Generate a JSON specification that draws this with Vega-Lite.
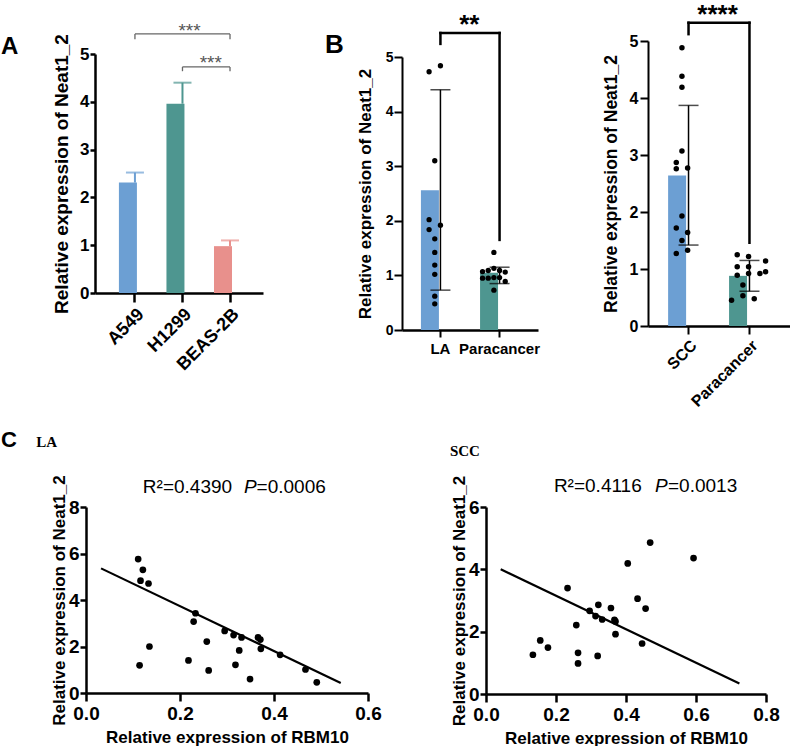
{
  "$schema": "https://vega.github.io/schema/vega-lite/v6.json",
  "background": "white",
  "padding": {"left": 0, "top": 1, "right": 0, "bottom": 0},
  "spacing": 18,
  "resolve": {"scale": {"color": "independent"}},
  "config": {
    "view": {"stroke": null},
    "font": "Liberation Sans",
    "axis": {"grid": false, "domainColor": "#000000", "tickColor": "#000000", "labelColor": "#000000", "titleColor": "#000000", "labelFont": "Liberation Sans", "titleFont": "Liberation Sans", "labelFontWeight": "bold", "titleFontWeight": "bold", "labelFlush": false, "labelOverlap": false}
  },
  "vconcat": [
    {
      "spacing": 0,
      "bounds": "flush",
      "resolve": {"scale": {"color": "independent"}},
      "hconcat": [
        {"width": 9, "height": 10, "data": {"values": []}, "mark": {"type": "point", "opacity": 0}},
        {
          "width": 168, "height": 252,
          "data": {"values": [
            {"group": "A549", "mean": 2.31, "upper": 2.52},
            {"group": "H1299", "mean": 3.96, "upper": 4.40},
            {"group": "BEAS-2B", "mean": 0.98, "upper": 1.10}
          ]},
          "layer": [
            {
              "mark": {"type": "bar"},
              "encoding": {
                "x": {"field": "group", "type": "nominal", "sort": null,
                  "scale": {"domain": ["A549", "H1299", "BEAS-2B"], "paddingInner": 0.326, "paddingOuter": 0.43, "align": 0.585},
                  "axis": {"title": null, "labelAngle": -45, "labelFontSize": 18, "tickSize": 9, "tickWidth": 2.5, "domainWidth": 2.5, "labelPadding": 3}},
                "y": {"field": "mean", "type": "quantitative",
                  "scale": {"domain": [0, 5], "nice": false, "range": [252, 13]},
                  "axis": {"title": "Relative expression of Neat1_2", "values": [0, 1, 2, 3, 4, 5], "format": "d", "titleFontSize": 19, "labelFontSize": 17, "tickSize": 5, "tickWidth": 2.5, "domainWidth": 2.5, "labelPadding": 1, "titlePadding": 8}},
                "color": {"field": "group", "type": "nominal", "legend": null,
                  "scale": {"domain": ["A549", "H1299", "BEAS-2B"], "range": ["#6c9fd3", "#4e9690", "#e8908c"]}}
              }
            },
            {
              "mark": {"type": "rule", "strokeWidth": 2},
              "encoding": {
                "x": {"field": "group", "type": "nominal"},
                "y": {"field": "mean", "type": "quantitative"},
                "y2": {"field": "upper"},
                "color": {"field": "group", "type": "nominal", "legend": null}
              }
            },
            {
              "mark": {"type": "tick", "thickness": 2, "size": 18},
              "encoding": {
                "x": {"field": "group", "type": "nominal"},
                "y": {"field": "upper", "type": "quantitative"},
                "color": {"field": "group", "type": "nominal", "legend": null}
              }
            },
            {
              "data": {"values": [
                {"from": "A549", "to": "BEAS-2B", "y": 5.42},
                {"from": "H1299", "to": "BEAS-2B", "y": 4.73}
              ]},
              "mark": {"type": "rule", "strokeWidth": 1.3, "color": "#666666"},
              "encoding": {
                "x": {"field": "from", "type": "nominal"},
                "x2": {"field": "to"},
                "y": {"field": "y", "type": "quantitative"}
              }
            },
            {
              "data": {"values": [
                {"group": "A549", "y": 5.42, "y2": 5.31},
                {"group": "BEAS-2B", "y": 5.42, "y2": 5.31},
                {"group": "H1299", "y": 4.73, "y2": 4.64},
                {"group": "BEAS-2B", "y": 4.73, "y2": 4.64}
              ]},
              "mark": {"type": "rule", "strokeWidth": 1.3, "color": "#666666"},
              "encoding": {
                "x": {"field": "group", "type": "nominal"},
                "y": {"field": "y", "type": "quantitative"},
                "y2": {"field": "y2"}
              }
            },
            {
              "data": {"values": [{"group": "H1299", "y": 5.36, "t": "***"}]},
              "mark": {"type": "text", "fontSize": 19, "color": "#555555", "baseline": "alphabetic", "align": "center"},
              "encoding": {
                "x": {"field": "group", "type": "nominal", "bandPosition": 0.72},
                "y": {"field": "y", "type": "quantitative"},
                "text": {"field": "t"}
              }
            },
            {
              "data": {"values": [{"group": "BEAS-2B", "y": 4.69, "t": "***"}]},
              "mark": {"type": "text", "fontSize": 19, "color": "#555555", "baseline": "alphabetic", "align": "center"},
              "encoding": {
                "x": {"field": "group", "type": "nominal", "bandPosition": -0.1},
                "y": {"field": "y", "type": "quantitative"},
                "text": {"field": "t"}
              }
            },
            {
              "data": {"values": [{"group": "A549", "y": 5.0, "t": "A"}]},
              "mark": {"type": "text", "fontSize": 24, "fontWeight": "bold", "color": "#000000", "baseline": "alphabetic", "align": "left", "dx": -134},
              "encoding": {
                "x": {"field": "group", "type": "nominal"},
                "y": {"field": "y", "type": "quantitative"},
                "text": {"field": "t"}
              }
            }
          ]
        },
        {"width": 139, "height": 10, "data": {"values": []}, "mark": {"type": "point", "opacity": 0}},
        {
          "width": 136, "height": 289,
          "data": {"values": [
            {"group": "LA", "mean": 2.56, "lo": 0.73, "hi": 4.40},
            {"group": "Paracancer", "mean": 1.05, "lo": 0.85, "hi": 1.15}
          ]},
          "layer": [
            {
              "mark": {"type": "bar"},
              "encoding": {
                "x": {"field": "group", "type": "nominal", "sort": null,
                  "scale": {"domain": ["LA", "Paracancer"], "paddingInner": 0.34, "paddingOuter": 0.32},
                  "axis": {"title": null, "labelAngle": 0, "labelFontSize": 15, "tickSize": 7, "tickWidth": 2, "domainWidth": 2.5, "labelPadding": 4}},
                "y": {"field": "mean", "type": "quantitative",
                  "scale": {"domain": [0, 5], "nice": false, "range": [289, 16]},
                  "axis": {"title": "Relative expression of Neat1_2", "values": [0, 1, 2, 3, 4, 5], "format": "d", "titleFontSize": 17, "labelFontSize": 14, "tickSize": 8, "tickWidth": 2, "domainWidth": 2, "labelPadding": 1, "titlePadding": 11}},
                "color": {"field": "group", "type": "nominal", "legend": null,
                  "scale": {"domain": ["LA", "Paracancer"], "range": ["#6c9fd3", "#4e9690"]}}
              }
            },
            {
              "data": {"values": [
                {"group": "LA", "value": 4.73, "slot": -1},
                {"group": "LA", "value": 4.84, "slot": 1},
                {"group": "LA", "value": 3.10, "slot": 0},
                {"group": "LA", "value": 2.02, "slot": -1},
                {"group": "LA", "value": 1.84, "slot": -1},
                {"group": "LA", "value": 1.92, "slot": 1},
                {"group": "LA", "value": 1.67, "slot": 0},
                {"group": "LA", "value": 1.42, "slot": 0},
                {"group": "LA", "value": 1.19, "slot": 0},
                {"group": "LA", "value": 1.02, "slot": 0},
                {"group": "LA", "value": 0.62, "slot": 0},
                {"group": "LA", "value": 0.48, "slot": 0},
                {"group": "Paracancer", "value": 1.42, "slot": 0},
                {"group": "Paracancer", "value": 1.13, "slot": 0},
                {"group": "Paracancer", "value": 1.07, "slot": -2},
                {"group": "Paracancer", "value": 1.09, "slot": -1},
                {"group": "Paracancer", "value": 1.09, "slot": 1},
                {"group": "Paracancer", "value": 1.06, "slot": 2},
                {"group": "Paracancer", "value": 0.95, "slot": -2},
                {"group": "Paracancer", "value": 0.95, "slot": -1},
                {"group": "Paracancer", "value": 0.96, "slot": 1},
                {"group": "Paracancer", "value": 0.89, "slot": 2},
                {"group": "Paracancer", "value": 0.96, "slot": 0},
                {"group": "Paracancer", "value": 0.73, "slot": 0}
              ]},
              "mark": {"type": "circle", "size": 28, "color": "#000000", "opacity": 1},
              "encoding": {
                "x": {"field": "group", "type": "nominal"},
                "xOffset": {"field": "slot", "type": "ordinal", "scale": {"type": "point", "domain": [-2, -1, 0, 1, 2], "padding": 0.44}},
                "y": {"field": "value", "type": "quantitative"}
              }
            },
            {
              "mark": {"type": "rule", "strokeWidth": 1.5, "color": "#000000"},
              "encoding": {
                "x": {"field": "group", "type": "nominal"},
                "y": {"field": "lo", "type": "quantitative"},
                "y2": {"field": "hi"}
              }
            },
            {
              "transform": [{"fold": ["lo", "hi"], "as": ["end", "val"]}],
              "mark": {"type": "tick", "thickness": 1.5, "size": 20, "color": "#000000"},
              "encoding": {
                "x": {"field": "group", "type": "nominal"},
                "y": {"field": "val", "type": "quantitative"}
              }
            },
            {
              "data": {"values": [{"from": "LA", "to": "Paracancer", "y": 5.44}]},
              "mark": {"type": "rule", "strokeWidth": 2.5, "color": "#000000", "strokeCap": "square"},
              "encoding": {
                "x": {"field": "from", "type": "nominal"},
                "x2": {"field": "to"},
                "y": {"field": "y", "type": "quantitative"}
              }
            },
            {
              "data": {"values": [
                {"group": "LA", "y": 5.44, "y2": 5.24},
                {"group": "Paracancer", "y": 5.44, "y2": 1.65}
              ]},
              "mark": {"type": "rule", "strokeWidth": 2.5, "color": "#000000", "strokeCap": "square"},
              "encoding": {
                "x": {"field": "group", "type": "nominal"},
                "y": {"field": "y", "type": "quantitative"},
                "y2": {"field": "y2"}
              }
            },
            {
              "data": {"values": [{"group": "LA", "y": 5.44, "t": "**"}]},
              "mark": {"type": "text", "fontSize": 26, "fontWeight": "bold", "color": "#000000", "baseline": "alphabetic", "align": "center"},
              "encoding": {
                "x": {"field": "group", "type": "nominal", "bandPosition": 1.24},
                "y": {"field": "y", "type": "quantitative"},
                "text": {"field": "t"}
              }
            },
            {
              "data": {"values": [{"group": "LA", "y": 5.07, "t": "B"}]},
              "mark": {"type": "text", "fontSize": 26, "fontWeight": "bold", "color": "#000000", "baseline": "alphabetic", "align": "left", "dx": -115.5},
              "encoding": {
                "x": {"field": "group", "type": "nominal"},
                "y": {"field": "y", "type": "quantitative"},
                "text": {"field": "t"}
              }
            }
          ]
        },
        {"width": 110, "height": 10, "data": {"values": []}, "mark": {"type": "point", "opacity": 0}},
        {
          "width": 142, "height": 285,
          "data": {"values": [
            {"group": "SCC", "mean": 2.64, "lo": 1.42, "hi": 3.87},
            {"group": "Paracancer", "mean": 0.88, "lo": 0.61, "hi": 1.15}
          ]},
          "layer": [
            {
              "mark": {"type": "bar"},
              "encoding": {
                "x": {"field": "group", "type": "nominal", "sort": null,
                  "scale": {"domain": ["SCC", "Paracancer"], "paddingInner": 0.33, "paddingOuter": 0.33},
                  "axis": {"title": null, "labelAngle": -45, "labelFontSize": 16, "tickSize": 8, "tickWidth": 2, "domainWidth": 2.5, "labelPadding": 3}},
                "y": {"field": "mean", "type": "quantitative",
                  "scale": {"domain": [0, 5], "nice": false},
                  "axis": {"title": "Relative expression of Neat1_2", "values": [0, 1, 2, 3, 4, 5], "format": "d", "titleFontSize": 17.5, "labelFontSize": 16, "tickSize": 8, "tickWidth": 2, "domainWidth": 2, "labelPadding": 2, "titlePadding": 9}},
                "color": {"field": "group", "type": "nominal", "legend": null,
                  "scale": {"domain": ["SCC", "Paracancer"], "range": ["#6c9fd3", "#4e9690"]}}
              }
            },
            {
              "data": {"values": [
                {"group": "SCC", "value": 4.88, "slot": 0},
                {"group": "SCC", "value": 4.38, "slot": 0},
                {"group": "SCC", "value": 4.19, "slot": 0},
                {"group": "SCC", "value": 3.07, "slot": 0},
                {"group": "SCC", "value": 2.87, "slot": -1},
                {"group": "SCC", "value": 2.76, "slot": -1},
                {"group": "SCC", "value": 2.77, "slot": 1},
                {"group": "SCC", "value": 1.93, "slot": 0},
                {"group": "SCC", "value": 1.72, "slot": -1},
                {"group": "SCC", "value": 1.64, "slot": 1},
                {"group": "SCC", "value": 1.50, "slot": 0},
                {"group": "SCC", "value": 1.27, "slot": -1},
                {"group": "SCC", "value": 1.33, "slot": 1},
                {"group": "Paracancer", "value": 1.25, "slot": -1},
                {"group": "Paracancer", "value": 1.22, "slot": 1},
                {"group": "Paracancer", "value": 1.14, "slot": 3},
                {"group": "Paracancer", "value": 1.04, "slot": -1},
                {"group": "Paracancer", "value": 1.04, "slot": 1},
                {"group": "Paracancer", "value": 0.92, "slot": -3},
                {"group": "Paracancer", "value": 0.89, "slot": -1},
                {"group": "Paracancer", "value": 0.92, "slot": 1},
                {"group": "Paracancer", "value": 0.95, "slot": 3},
                {"group": "Paracancer", "value": 0.72, "slot": 0},
                {"group": "Paracancer", "value": 0.53, "slot": 0},
                {"group": "Paracancer", "value": 0.45, "slot": -2},
                {"group": "Paracancer", "value": 0.48, "slot": 2}
              ]},
              "mark": {"type": "circle", "size": 30, "color": "#000000", "opacity": 1},
              "encoding": {
                "x": {"field": "group", "type": "nominal"},
                "xOffset": {"field": "slot", "type": "ordinal", "scale": {"type": "point", "domain": [-3, -2, -1, 0, 1, 2, 3], "padding": 0.6}},
                "y": {"field": "value", "type": "quantitative"}
              }
            },
            {
              "mark": {"type": "rule", "strokeWidth": 1.5, "color": "#000000"},
              "encoding": {
                "x": {"field": "group", "type": "nominal"},
                "y": {"field": "lo", "type": "quantitative"},
                "y2": {"field": "hi"}
              }
            },
            {
              "transform": [{"fold": ["lo", "hi"], "as": ["end", "val"]}],
              "mark": {"type": "tick", "thickness": 1.5, "size": 20, "color": "#000000"},
              "encoding": {
                "x": {"field": "group", "type": "nominal"},
                "y": {"field": "val", "type": "quantitative"}
              }
            },
            {
              "data": {"values": [{"from": "SCC", "to": "Paracancer", "y": 5.32}]},
              "mark": {"type": "rule", "strokeWidth": 2.5, "color": "#000000", "strokeCap": "square"},
              "encoding": {
                "x": {"field": "from", "type": "nominal"},
                "x2": {"field": "to"},
                "y": {"field": "y", "type": "quantitative"}
              }
            },
            {
              "data": {"values": [
                {"group": "SCC", "y": 5.32, "y2": 5.12},
                {"group": "Paracancer", "y": 5.32, "y2": 1.46}
              ]},
              "mark": {"type": "rule", "strokeWidth": 2.5, "color": "#000000", "strokeCap": "square"},
              "encoding": {
                "x": {"field": "group", "type": "nominal"},
                "y": {"field": "y", "type": "quantitative"},
                "y2": {"field": "y2"}
              }
            },
            {
              "data": {"values": [{"group": "SCC", "y": 5.32, "t": "****"}]},
              "mark": {"type": "text", "fontSize": 26, "fontWeight": "bold", "color": "#000000", "baseline": "alphabetic", "align": "center"},
              "encoding": {
                "x": {"field": "group", "type": "nominal", "bandPosition": 1.21},
                "y": {"field": "y", "type": "quantitative"},
                "text": {"field": "t"}
              }
            }
          ]
        }
      ]
    },
    {
      "spacing": 0,
      "bounds": "flush",
      "hconcat": [
        {
          "width": 282, "height": 186,
          "data": {"values": [
            {"rbm10": 0.111, "neat1": 5.76}, {"rbm10": 0.121, "neat1": 5.30}, {"rbm10": 0.116, "neat1": 4.83},
            {"rbm10": 0.133, "neat1": 4.71}, {"rbm10": 0.135, "neat1": 2.00}, {"rbm10": 0.114, "neat1": 1.19},
            {"rbm10": 0.233, "neat1": 3.43}, {"rbm10": 0.229, "neat1": 3.07}, {"rbm10": 0.218, "neat1": 1.40},
            {"rbm10": 0.257, "neat1": 2.21}, {"rbm10": 0.261, "neat1": 0.97}, {"rbm10": 0.295, "neat1": 2.67},
            {"rbm10": 0.314, "neat1": 2.49}, {"rbm10": 0.331, "neat1": 2.39}, {"rbm10": 0.326, "neat1": 1.83},
            {"rbm10": 0.318, "neat1": 1.21}, {"rbm10": 0.349, "neat1": 0.60}, {"rbm10": 0.366, "neat1": 2.39},
            {"rbm10": 0.371, "neat1": 2.30}, {"rbm10": 0.372, "neat1": 1.90}, {"rbm10": 0.413, "neat1": 1.64},
            {"rbm10": 0.467, "neat1": 1.01}, {"rbm10": 0.491, "neat1": 0.46}
          ]},
          "layer": [
            {
              "mark": {"type": "circle", "size": 45, "color": "#000000", "opacity": 1},
              "encoding": {
                "x": {"field": "rbm10", "type": "quantitative", "scale": {"domain": [0, 0.6], "nice": false},
                  "axis": {"title": "Relative expression of RBM10", "values": [0, 0.2, 0.4, 0.6], "format": ".1f", "labelFontSize": 19, "titleFontSize": 17, "tickSize": 8, "tickWidth": 2.5, "domainWidth": 2.5, "labelPadding": 3, "titlePadding": 6}},
                "y": {"field": "neat1", "type": "quantitative", "scale": {"domain": [0, 8], "nice": false},
                  "axis": {"title": "Relative expression of Neat1_2", "values": [0, 2, 4, 6, 8], "labelFontSize": 19, "titleFontSize": 17, "tickSize": 6, "tickWidth": 2.5, "domainWidth": 2.5, "labelPadding": 1, "titlePadding": 0}}
              }
            },
            {
              "data": {"values": [{"x1": 0.032, "y1": 5.36, "x2": 0.542, "y2": 0.43}]},
              "mark": {"type": "rule", "strokeWidth": 2.2, "color": "#000000"},
              "encoding": {
                "x": {"field": "x1", "type": "quantitative"},
                "y": {"field": "y1", "type": "quantitative"},
                "x2": {"field": "x2"},
                "y2": {"field": "y2"}
              }
            },
            {
              "data": {"values": [{"x": 0.121, "y": 8.84, "t": "R²=0.4390"}, {"x": 0.363, "y": 8.84, "t": "=0.0006"}]},
              "mark": {"type": "text", "fontSize": 19, "color": "#000000", "align": "left", "baseline": "middle"},
              "encoding": {
                "x": {"field": "x", "type": "quantitative"},
                "y": {"field": "y", "type": "quantitative"},
                "text": {"field": "t"}
              }
            },
            {
              "data": {"values": [{"x": 0.336, "y": 8.84, "t": "P"}]},
              "mark": {"type": "text", "fontSize": 19, "fontStyle": "italic", "color": "#000000", "align": "left", "baseline": "middle"},
              "encoding": {
                "x": {"field": "x", "type": "quantitative"},
                "y": {"field": "y", "type": "quantitative"},
                "text": {"field": "t"}
              }
            },
            {
              "data": {"values": [{"x": -0.181, "y": 10.6, "t": "C"}]},
              "mark": {"type": "text", "fontSize": 22, "fontWeight": "bold", "color": "#000000", "align": "left", "baseline": "alphabetic"},
              "encoding": {
                "x": {"field": "x", "type": "quantitative"},
                "y": {"field": "y", "type": "quantitative"},
                "text": {"field": "t"}
              }
            },
            {
              "data": {"values": [{"x": -0.106, "y": 10.56, "t": "LA"}]},
              "mark": {"type": "text", "fontSize": 15, "fontWeight": "bold", "font": "Liberation Serif", "color": "#000000", "align": "left", "baseline": "alphabetic"},
              "encoding": {
                "x": {"field": "x", "type": "quantitative"},
                "y": {"field": "y", "type": "quantitative"},
                "text": {"field": "t"}
              }
            }
          ]
        },
        {"width": 118, "height": 10, "data": {"values": []}, "mark": {"type": "point", "opacity": 0}},
        {
          "width": 280, "height": 187,
          "data": {"values": [
            {"rbm10": 0.134, "neat1": 1.26}, {"rbm10": 0.155, "neat1": 1.72}, {"rbm10": 0.177, "neat1": 1.49},
            {"rbm10": 0.233, "neat1": 3.40}, {"rbm10": 0.258, "neat1": 2.21}, {"rbm10": 0.263, "neat1": 1.32},
            {"rbm10": 0.263, "neat1": 0.98}, {"rbm10": 0.296, "neat1": 2.67}, {"rbm10": 0.313, "neat1": 2.50},
            {"rbm10": 0.321, "neat1": 2.86}, {"rbm10": 0.332, "neat1": 2.39}, {"rbm10": 0.319, "neat1": 1.22},
            {"rbm10": 0.357, "neat1": 2.76}, {"rbm10": 0.367, "neat1": 2.38}, {"rbm10": 0.370, "neat1": 2.33},
            {"rbm10": 0.370, "neat1": 1.92}, {"rbm10": 0.405, "neat1": 4.19}, {"rbm10": 0.433, "neat1": 3.06},
            {"rbm10": 0.446, "neat1": 1.62}, {"rbm10": 0.456, "neat1": 2.74}, {"rbm10": 0.469, "neat1": 4.86},
            {"rbm10": 0.593, "neat1": 4.36}
          ]},
          "layer": [
            {
              "mark": {"type": "circle", "size": 45, "color": "#000000", "opacity": 1},
              "encoding": {
                "x": {"field": "rbm10", "type": "quantitative", "scale": {"domain": [0, 0.8], "nice": false},
                  "axis": {"title": "Relative expression of RBM10", "values": [0, 0.2, 0.4, 0.6, 0.8], "format": ".1f", "labelFontSize": 19, "titleFontSize": 17, "tickSize": 8, "tickWidth": 2.5, "domainWidth": 2.5, "labelPadding": 3, "titlePadding": 6}},
                "y": {"field": "neat1", "type": "quantitative", "scale": {"domain": [0, 6], "nice": false},
                  "axis": {"title": "Relative expression of Neat1_2", "values": [0, 2, 4, 6], "labelFontSize": 19, "titleFontSize": 17, "tickSize": 6, "tickWidth": 2.5, "domainWidth": 2.5, "labelPadding": 1, "titlePadding": 0}}
              }
            },
            {
              "data": {"values": [{"x1": 0.042, "y1": 4.00, "x2": 0.724, "y2": 0.34}]},
              "mark": {"type": "rule", "strokeWidth": 2.2, "color": "#000000"},
              "encoding": {
                "x": {"field": "x1", "type": "quantitative"},
                "y": {"field": "y1", "type": "quantitative"},
                "x2": {"field": "x2"},
                "y2": {"field": "y2"}
              }
            },
            {
              "data": {"values": [{"x": 0.194, "y": 6.67, "t": "R²=0.4116"}, {"x": 0.52, "y": 6.67, "t": "=0.0013"}]},
              "mark": {"type": "text", "fontSize": 19, "color": "#000000", "align": "left", "baseline": "middle"},
              "encoding": {
                "x": {"field": "x", "type": "quantitative"},
                "y": {"field": "y", "type": "quantitative"},
                "text": {"field": "t"}
              }
            },
            {
              "data": {"values": [{"x": 0.483, "y": 6.67, "t": "P"}]},
              "mark": {"type": "text", "fontSize": 19, "fontStyle": "italic", "color": "#000000", "align": "left", "baseline": "middle"},
              "encoding": {
                "x": {"field": "x", "type": "quantitative"},
                "y": {"field": "y", "type": "quantitative"},
                "text": {"field": "t"}
              }
            },
            {
              "data": {"values": [{"x": -0.103, "y": 7.63, "t": "SCC"}]},
              "mark": {"type": "text", "fontSize": 15, "fontWeight": "bold", "font": "Liberation Serif", "color": "#000000", "align": "left", "baseline": "alphabetic"},
              "encoding": {
                "x": {"field": "x", "type": "quantitative"},
                "y": {"field": "y", "type": "quantitative"},
                "text": {"field": "t"}
              }
            }
          ]
        }
      ]
    }
  ]
}
